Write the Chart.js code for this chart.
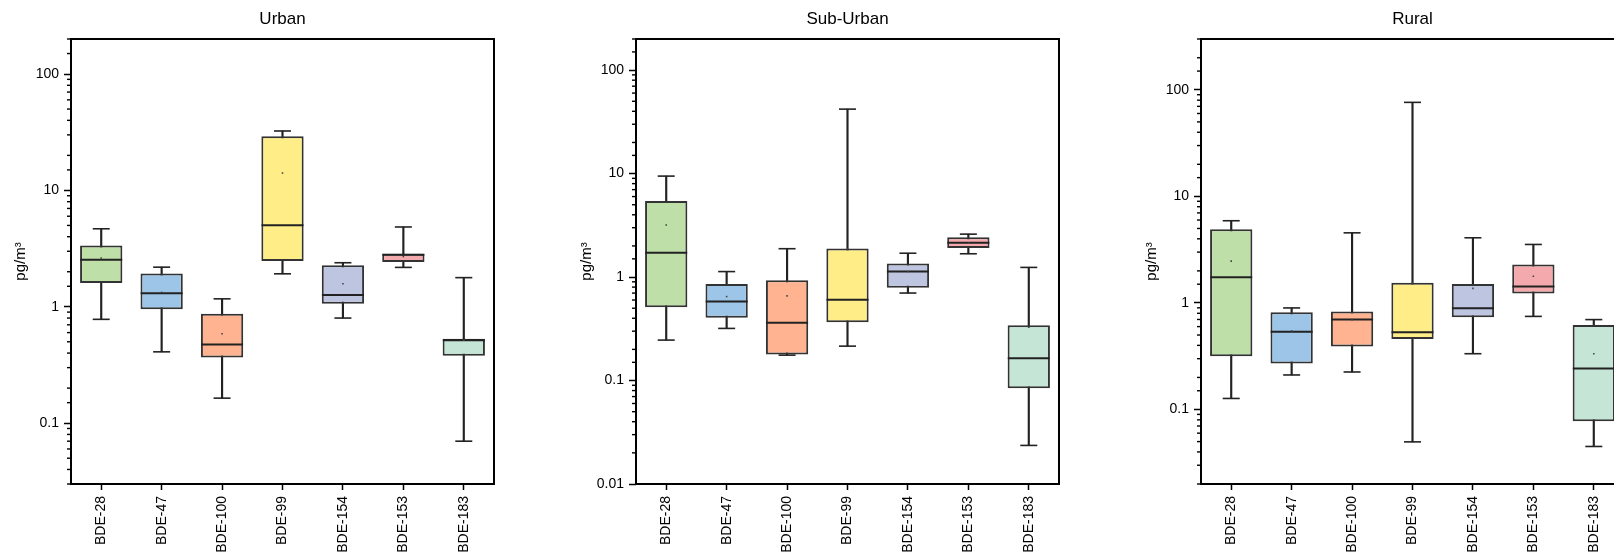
<!DOCTYPE html>
<html>
<head>
<meta charset="utf-8">
<title>PBDE congeners by site type</title>
<script src="https://cdn.jsdelivr.net/npm/chart.js@4.4.1/dist/chart.umd.min.js"></script>
<style>
  html, body { margin: 0; padding: 0; background: #fff; width: 1614px; height: 555px; overflow: hidden; position: relative; }
  canvas.panel { position: absolute; top: 0; }
</style>
</head>
<body>
<canvas id="urban" class="panel" width="565" height="555" style="left:0px"></canvas>
<canvas id="suburban" class="panel" width="565" height="555" style="left:565px"></canvas>
<canvas id="rural" class="panel" width="565" height="555" style="left:1130px"></canvas>
<script>
// Congeners on the x axis and their box fill colours
const congeners = ['BDE-28', 'BDE-47', 'BDE-100', 'BDE-99', 'BDE-154', 'BDE-153', 'BDE-183'];
const boxColors = ['#BFDFA9', '#9DC5E7', '#FFB391', '#FFEE88', '#BDC5E0', '#F4AAAC', '#C5E6D6'];

// Urban concentrations (pg/m3): whisker ends, quartiles, median, mean
const urbanMin    = [0.78, 0.41, 0.164, 1.92, 0.80, 2.18, 0.070];
const urbanQ1     = [1.60, 0.95, 0.367, 2.47, 1.06, 2.42, 0.380];
const urbanMedian = [2.54, 1.31, 0.475, 5.02, 1.26, 2.80, 0.515];
const urbanQ3     = [3.36, 1.93, 0.87, 29.2, 2.27, 2.86, 0.530];
const urbanMax    = [4.68, 2.19, 1.17, 32.4, 2.39, 4.85, 1.78];
const urbanMean   = [2.63, 1.33, 0.587, 14.1, 1.58, 2.70, 0.515];

// Sub-urban concentrations (pg/m3)
const suburbanMin    = [0.246, 0.319, 0.176, 0.215, 0.701, 1.68, 0.0236];
const suburbanQ1     = [0.511, 0.404, 0.179, 0.365, 0.789, 1.91, 0.084];
const suburbanMedian = [1.72, 0.581, 0.362, 0.604, 1.13, 2.15, 0.164];
const suburbanQ3     = [5.45, 0.855, 0.932, 1.89, 1.35, 2.42, 0.342];
const suburbanMax    = [9.46, 1.13, 1.88, 42.0, 1.70, 2.60, 1.24];
const suburbanMean   = [3.19, 0.648, 0.658, 1.89, 1.13, 2.15, 0.327];

// Rural concentrations (pg/m3)
const ruralMin    = [0.127, 0.211, 0.225, 0.0497, 0.334, 0.748, 0.045];
const ruralQ1     = [0.317, 0.270, 0.390, 0.458, 0.736, 1.23, 0.0775];
const ruralMedian = [1.74, 0.538, 0.698, 0.530, 0.891, 1.43, 0.243];
const ruralQ3     = [4.92, 0.820, 0.832, 1.55, 1.51, 2.30, 0.622];
const ruralMax    = [5.91, 0.898, 4.55, 76.3, 4.09, 3.54, 0.698];
const ruralMean   = [2.47, 0.546, 0.698, 1.55, 1.37, 1.78, 0.334];

// Log axis ranges and the decades that carry a label
const urbanRange = [0.03, 200];
const suburbanRange = [0.01, 200];
const ruralRange = [0.02, 300];
const urbanTickLabels = [0.1, 1, 10, 100];
const suburbanTickLabels = [0.01, 0.1, 1, 10, 100];
const ruralTickLabels = [0.1, 1, 10, 100];

const FONT = "'Liberation Sans', Arial, Helvetica, sans-serif";
Chart.defaults.font.family = FONT;
Chart.defaults.color = '#000';

function labelFor(value, labels) {
  const hit = labels.find(t => Math.abs(Math.log10(value / t)) < 1e-6);
  return hit === undefined ? null : hit;
}

// Frame around the plot area plus short minor ticks on the log axis
const framePlugin = {
  id: 'frame',
  afterDraw(chart, args, opts) {
    const { ctx, chartArea: a } = chart;
    const y = chart.scales.y;
    ctx.save();
    ctx.strokeStyle = '#000';
    ctx.lineWidth = 1.4;
    y.ticks.forEach(t => {
      if (labelFor(t.value, opts.labels) === null) {
        const py = y.getPixelForValue(t.value);
        ctx.beginPath();
        ctx.moveTo(a.left, py);
        ctx.lineTo(a.left - 4, py);
        ctx.stroke();
      }
    });
    ctx.lineWidth = 2;
    ctx.strokeRect(a.left, a.top, a.right - a.left, a.bottom - a.top);
    ctx.restore();
  }
};

function makePanel(id, title, mins, q1s, meds, q3s, maxs, means, range, tickLabels, yTitlePad) {
  const pointSet = (label, data, style, radius, width, order) => ({
    type: 'line', label, data, showLine: false, pointStyle: style,
    pointRadius: radius, pointHoverRadius: radius, pointBorderWidth: width,
    pointBorderColor: '#222', pointBackgroundColor: '#333', order
  });
  new Chart(document.getElementById(id), {
    type: 'bar',
    data: {
      labels: congeners,
      datasets: [
        { label: 'whisker', data: congeners.map((_, i) => [mins[i], maxs[i]]),
          backgroundColor: '#222', borderWidth: 0, barThickness: 1.5, grouped: false, order: 5 },
        { label: 'box', data: congeners.map((_, i) => [q1s[i], q3s[i]]),
          backgroundColor: boxColors, borderColor: '#333', borderWidth: 2, borderSkipped: false,
          barPercentage: 0.7, categoryPercentage: 1, grouped: false, order: 4 },
        pointSet('median', meds, 'line', 21, 2, 3),
        pointSet('upper cap', maxs, 'line', 8.5, 1.6, 2),
        pointSet('lower cap', mins, 'line', 8.5, 1.6, 2),
        { type: 'line', label: 'mean', data: means, showLine: false, pointStyle: 'rect',
          pointRadius: 1.1, pointHoverRadius: 1.1, pointBorderWidth: 0,
          pointBackgroundColor: '#444', order: 1 }
      ]
    },
    options: {
      responsive: false,
      animation: false,
      events: [],
      layout: { padding: 0 },
      plugins: {
        legend: { display: false },
        tooltip: { enabled: false },
        title: { display: true, text: title, color: '#000',
                 font: { size: 17, weight: 'normal' }, padding: { top: 9.3, bottom: 9.3 } },
        frame: { labels: tickLabels }
      },
      scales: {
        x: {
          offset: true,
          border: { display: false },
          grid: { display: true, offset: false, drawOnChartArea: false, drawTicks: true,
                  tickLength: 6, tickWidth: 1.5, tickColor: '#000' },
          ticks: { color: '#000', font: { size: 14 }, minRotation: 90, maxRotation: 90,
                   padding: 6, autoSkip: false },
          afterFit: s => { s.height = 71; }
        },
        y: {
          type: 'logarithmic', min: range[0], max: range[1],
          border: { display: false },
          grid: { display: true, drawOnChartArea: false, drawTicks: true, tickLength: 7, tickWidth: 1.5,
                  tickColor: c => labelFor(c.tick.value, tickLabels) === null ? 'rgba(0,0,0,0)' : '#000' },
          ticks: { autoSkip: false, color: '#000', font: { size: 14 }, padding: 5,
                   callback: v => { const h = labelFor(v, tickLabels); return h === null ? '' : String(h); } },
          title: { display: true, text: 'pg/m³', color: '#000', font: { size: 15 },
                   padding: { top: yTitlePad, bottom: 0 } },
          afterFit: s => { s.width = 71; }
        },
        yRight: {
          type: 'linear', position: 'right', display: true,
          grid: { display: false }, border: { display: false }, ticks: { display: false },
          afterFit: s => { s.width = 71; }
        }
      }
    },
    plugins: [framePlugin]
  });
}

makePanel('urban', 'Urban', urbanMin, urbanQ1, urbanMedian, urbanQ3, urbanMax, urbanMean,
          urbanRange, urbanTickLabels, 12);
makePanel('suburban', 'Sub-Urban', suburbanMin, suburbanQ1, suburbanMedian, suburbanQ3, suburbanMax, suburbanMean,
          suburbanRange, suburbanTickLabels, 13);
makePanel('rural', 'Rural', ruralMin, ruralQ1, ruralMedian, ruralQ3, ruralMax, ruralMean,
          ruralRange, ruralTickLabels, 13);
</script>
</body>
</html>
